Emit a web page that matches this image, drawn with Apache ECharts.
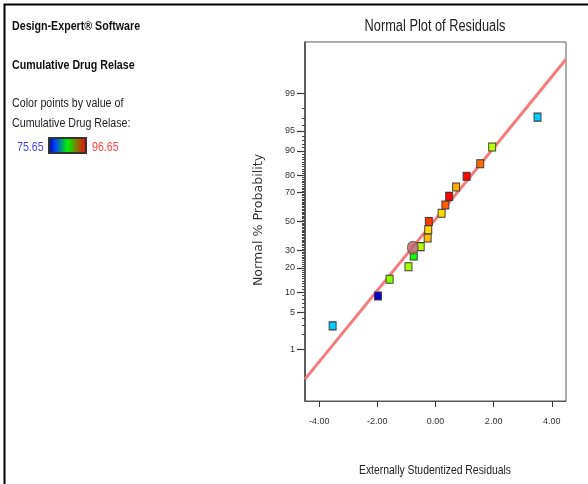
<!DOCTYPE html>
<html>
<head>
<meta charset="utf-8">
<script src="https://cdn.jsdelivr.net/npm/echarts@6/dist/echarts.min.js"></script>
<style>
  html, body { margin: 0; padding: 0; background: #fff; }
  #chart { width: 588px; height: 484px; }
</style>
</head>
<body>
<div id="chart"></div>
<script>
// Externally studentized residuals and their normal % probability
const residuals = [-3.54, -1.98, -1.58, -0.93, -0.75, -0.51, -0.27, -0.25, -0.23, 0.21, 0.34, 0.47, 0.71, 1.07, 1.54, 1.95, 3.51];
const probability = [2.9, 8.8, 14.7, 20.6, 26.5, 32.4, 38.2, 44.1, 50.0, 55.9, 61.8, 67.6, 73.5, 79.4, 85.3, 91.2, 97.1];
// Cumulative drug release of each run (used to colour the points)
const drugRelease = [79.8, 75.65, 89.0, 89.6, 86.5, 89.9, 92.8, 92.2, 95.5, 92.2, 94.8, 96.6, 93.2, 96.6, 94.5, 90.0, 79.9];
const releaseMin = 75.65;
const releaseMax = 96.65;

// Highlighted run
const highlightResidual = [-0.78];
const highlightProbability = [31.7];

// Reference line end points (residual, % probability)
const fitResidual = [-4.49, 4.49];
const fitProbability = [0.21, 99.84];

// Axis ticks
const xTicks = [-4, -2, 0, 2, 4];
const probTicks = [1, 5, 10, 20, 30, 50, 70, 80, 90, 95, 99];
const probMinorTicks = Array.from({ length: 99 }, (_, i) => i + 1);

// Inverse of the standard normal CDF (Acklam's rational approximation)
function probit(p) {
  const a = [-3.969683028665376e+01, 2.209460984245205e+02, -2.759285104469687e+02, 1.383577518672690e+02, -3.066479806614716e+01, 2.506628277459239e+00];
  const b = [-5.447609879822406e+01, 1.615858368580409e+02, -1.556989798598866e+02, 6.680131188771972e+01, -1.328068155288572e+01];
  const c = [-7.784894002430293e-03, -3.223964580411365e-01, -2.400758277161838e+00, -2.549732539343734e+00, 4.374664141464968e+00, 2.938163982698783e+00];
  const d = [7.784695709041462e-03, 3.224671290700398e-01, 2.445134137142996e+00, 3.754408661907416e+00];
  const pl = 0.02425, ph = 1 - pl;
  let q, r;
  if (p < pl) {
    q = Math.sqrt(-2 * Math.log(p));
    return (((((c[0]*q+c[1])*q+c[2])*q+c[3])*q+c[4])*q+c[5]) / ((((d[0]*q+d[1])*q+d[2])*q+d[3])*q+1);
  }
  if (p <= ph) {
    q = p - 0.5; r = q * q;
    return (((((a[0]*r+a[1])*r+a[2])*r+a[3])*r+a[4])*r+a[5])*q / (((((b[0]*r+b[1])*r+b[2])*r+b[3])*r+b[4])*r+1);
  }
  q = Math.sqrt(-2 * Math.log(1 - p));
  return -(((((c[0]*q+c[1])*q+c[2])*q+c[3])*q+c[4])*q+c[5]) / ((((d[0]*q+d[1])*q+d[2])*q+d[3])*q+1);
}
const z = pct => probit(pct / 100);

const majorZ = probTicks.map(z);
const minorZ = probMinorTicks.map(z);

const sans = "'Liberation Sans', Arial, sans-serif";
const squeeze = 0.82;   // horizontal squeeze for the condensed look of the panel texts

const pointData = residuals.map((r, i) => [r, z(probability[i]), drugRelease[i]]);
const fitData = fitResidual.map((r, i) => [r, z(fitProbability[i])]);
const highlightData = highlightResidual.map((r, i) => [r, z(highlightProbability[i])]);

function label(x, y, text, opts) {
  return {
    type: 'text', x, y, scaleX: opts.scaleX || squeeze, rotation: opts.rotation || 0,
    style: {
      text, fontFamily: opts.fontFamily || sans, fontSize: opts.fontSize || 13,
      fontWeight: opts.fontWeight || 'normal', fill: opts.fill || '#222',
      align: opts.align || 'left', verticalAlign: 'middle'
    }
  };
}

const chart = echarts.init(document.getElementById('chart'), null, { renderer: 'canvas' });

chart.setOption({
  animation: false,
  backgroundColor: '#ffffff',
  grid: {
    left: 305, top: 42, width: 261, height: 359,
    show: true, borderColor: '#5a5a5a', borderWidth: 1
  },
  xAxis: {
    type: 'value',
    min: -4.49, max: 4.49,
    axisLine: { show: true, onZero: false, lineStyle: { color: '#555', width: 1 } },
    axisTick: { show: true, customValues: xTicks, length: 6, lineStyle: { color: '#333' } },
    axisLabel: {
      customValues: xTicks, margin: 16,
      formatter: v => v.toFixed(2),
      fontFamily: sans, fontSize: 9, color: '#333'
    },
    splitLine: { show: false }
  },
  yAxis: [
    {
      type: 'value',
      min: -3.26, max: 3.26,
      axisLine: { show: true, onZero: false, lineStyle: { color: '#444', width: 1.5 } },
      axisTick: { show: true, customValues: majorZ, length: 8, lineStyle: { color: '#333', width: 1.2 } },
      axisLabel: {
        customValues: majorZ, margin: 10,
        formatter: v => {
          let best = 0;
          majorZ.forEach((t, i) => { if (Math.abs(t - v) < Math.abs(majorZ[best] - v)) best = i; });
          return String(probTicks[best]);
        },
        fontFamily: sans, fontSize: 9, color: '#333'
      },
      splitLine: { show: false }
    },
    {
      type: 'value',
      min: -3.26, max: 3.26,
      position: 'left', offset: 0,
      axisLine: { show: false, onZero: false },
      axisTick: { show: true, customValues: minorZ, length: 3, lineStyle: { color: '#444', width: 1 } },
      axisLabel: { show: false },
      splitLine: { show: false }
    }
  ],
  visualMap: {
    show: false,
    type: 'continuous',
    seriesIndex: 0,
    dimension: 2,
    min: releaseMin, max: releaseMax,
    inRange: {
      color: ['#0000d0', '#0080ff', '#00ffff', '#00ff80', '#00ff00', '#80ff00', '#ffff00', '#ff8000', '#ff0000']
    }
  },
  series: [
    {
      name: 'Runs',
      type: 'scatter',
      data: pointData,
      symbol: 'rect',
      symbolSize: [7, 8],
      itemStyle: { borderColor: '#3a3a3a', borderWidth: 1, opacity: 1 },
      z: 4
    },
    {
      name: 'Reference line',
      type: 'line',
      data: fitData,
      showSymbol: false,
      lineStyle: { color: '#f47c7c', width: 3 },
      silent: true,
      z: 2
    },
    {
      name: 'Selected',
      type: 'scatter',
      data: highlightData,
      symbol: 'circle',
      symbolSize: [11, 13],
      itemStyle: { color: '#b86464', borderColor: '#555', borderWidth: 1 },
      z: 5
    }
  ],
  graphic: [
    // page frame
    { type: 'polyline', shape: { points: [[4.5, 484], [4.5, 4.5], [588, 4.5]] }, style: { stroke: '#000', lineWidth: 2, fill: null } },
    // side panel
    label(12, 26, 'Design-Expert® Software', { fontWeight: 'bold', fill: '#111' }),
    label(12, 65, 'Cumulative Drug Relase', { fontWeight: 'bold', fill: '#111' }),
    label(12, 103, 'Color points by value of', {}),
    label(12, 123, 'Cumulative Drug Relase:', {}),
    label(17, 147, releaseMin.toFixed(2), { fill: '#4444ff' }),
    {
      type: 'rect', shape: { x: 49, y: 138, width: 37, height: 15 },
      style: {
        stroke: '#333', lineWidth: 2,
        fill: new echarts.graphic.LinearGradient(0, 0, 1, 0, [
          { offset: 0, color: '#00008c' },
          { offset: 0.18, color: '#0040ff' },
          { offset: 0.5, color: '#00f000' },
          { offset: 0.8, color: '#a05a00' },
          { offset: 1, color: '#ff0000' }
        ])
      }
    },
    label(92, 147, releaseMax.toFixed(2), { fill: '#ff4040' }),
    // chart titles
    label(435, 27, 'Normal Plot of Residuals', { fontSize: 16, scaleX: 0.8, align: 'center' }),
    label(435, 470, 'Externally Studentized Residuals', { fontSize: 13, scaleX: 0.8, align: 'center' }),
    label(259, 220, 'Normal % Probability', { fontFamily: "'DejaVu Sans', sans-serif", fontSize: 12, scaleX: 1.05, rotation: Math.PI / 2, align: 'center', fill: '#333' })
  ]
});
</script>
</body>
</html>
